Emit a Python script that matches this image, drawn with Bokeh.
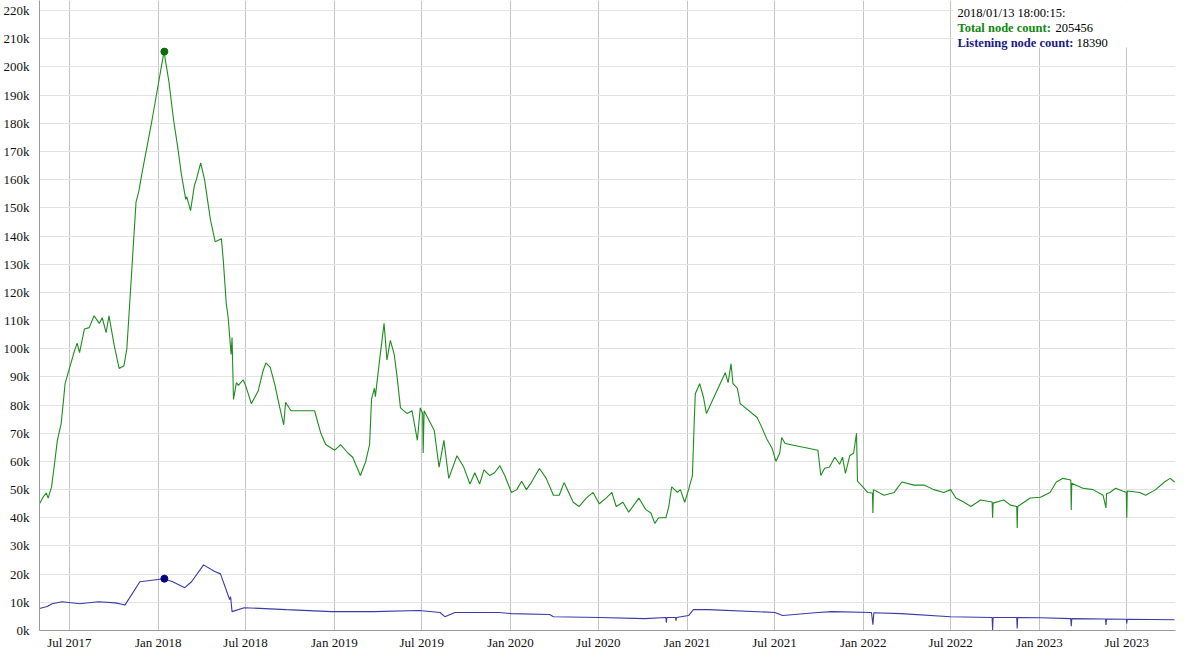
import pandas as pd
from bokeh.plotting import figure
from bokeh.models import (FixedTicker, Label, BoxAnnotation, Range1d,
                          DatetimeTickFormatter, CustomJSTickFormatter)
from bokeh.embed import file_html
from bokeh.resources import INLINE

# ---------------- data ----------------
total_dates = [
    "2017-04-30", "2017-05-08", "2017-05-14", "2017-05-18", "2017-05-25", "2017-05-31",
    "2017-06-06", "2017-06-14", "2017-06-20", "2017-06-22", "2017-07-01", "2017-07-11",
    "2017-07-17", "2017-07-22", "2017-08-01", "2017-08-11", "2017-08-21", "2017-09-01",
    "2017-09-07", "2017-09-15", "2017-09-21", "2017-10-02", "2017-10-12", "2017-10-22",
    "2017-10-28", "2017-11-08", "2017-11-16", "2017-11-22", "2017-11-28", "2017-12-19",
    "2018-01-13", "2018-01-23", "2018-02-02", "2018-02-10", "2018-02-18", "2018-02-27",
    "2018-03-01", "2018-03-09", "2018-03-17", "2018-03-21", "2018-03-30", "2018-04-07",
    "2018-04-19", "2018-04-29", "2018-05-12", "2018-05-16", "2018-05-22", "2018-05-26",
    "2018-06-01", "2018-06-03", "2018-06-06", "2018-06-12", "2018-06-16", "2018-06-26",
    "2018-07-01", "2018-07-13", "2018-07-27", "2018-08-06", "2018-08-12", "2018-08-21",
    "2018-08-31", "2018-09-10", "2018-09-18", "2018-09-22", "2018-10-03", "2018-11-21",
    "2018-12-04", "2018-12-14", "2019-01-02", "2019-01-14", "2019-01-29", "2019-02-08",
    "2019-02-14", "2019-02-24", "2019-03-07", "2019-03-15", "2019-03-19", "2019-03-25",
    "2019-03-27", "2019-04-04", "2019-04-14", "2019-04-20", "2019-04-27", "2019-05-05",
    "2019-05-11", "2019-05-18", "2019-06-01", "2019-06-11", "2019-06-22", "2019-06-28",
    "2019-07-03", "2019-07-04", "2019-07-06", "2019-07-27", "2019-08-06", "2019-08-16",
    "2019-08-26", "2019-09-12", "2019-09-26", "2019-10-09", "2019-10-19", "2019-10-29",
    "2019-11-07", "2019-11-19", "2019-11-29", "2019-12-10", "2019-12-20", "2020-01-03",
    "2020-01-14", "2020-01-24", "2020-02-03", "2020-02-13", "2020-03-01", "2020-03-15",
    "2020-03-30", "2020-04-11", "2020-04-21", "2020-05-10", "2020-05-22", "2020-06-06",
    "2020-06-20", "2020-07-03", "2020-07-17", "2020-07-29", "2020-08-07", "2020-08-21",
    "2020-09-02", "2020-09-23", "2020-10-07", "2020-10-18", "2020-10-26", "2020-11-03",
    "2020-11-18", "2020-11-24", "2020-11-30", "2020-12-12", "2020-12-18", "2020-12-27",
    "2021-01-04", "2021-01-12", "2021-01-16", "2021-01-18", "2021-01-27", "2021-02-04",
    "2021-02-10", "2021-03-21", "2021-03-27", "2021-04-02", "2021-04-06", "2021-04-15",
    "2021-04-21", "2021-04-25", "2021-05-26", "2021-06-05", "2021-06-15", "2021-06-26",
    "2021-07-04", "2021-07-12", "2021-07-16", "2021-07-23", "2021-09-29", "2021-10-05",
    "2021-10-13", "2021-10-23", "2021-11-03", "2021-11-13", "2021-11-19", "2021-11-25",
    "2021-12-04", "2021-12-12", "2021-12-18", "2021-12-20", "2021-12-31", "2022-01-10",
    "2022-01-20", "2022-01-21", "2022-01-22", "2022-02-13", "2022-03-06", "2022-03-22",
    "2022-04-16", "2022-05-07", "2022-05-27", "2022-06-17", "2022-07-01", "2022-07-12",
    "2022-07-28", "2022-08-12", "2022-09-01", "2022-09-25", "2022-09-26", "2022-09-27",
    "2022-10-19", "2022-11-02", "2022-11-15", "2022-11-16", "2022-11-17", "2022-12-13",
    "2023-01-03", "2023-01-23", "2023-02-05", "2023-02-19", "2023-03-07", "2023-03-08",
    "2023-03-09", "2023-04-01", "2023-04-22", "2023-05-13", "2023-05-19", "2023-05-20",
    "2023-05-27", "2023-06-08", "2023-06-30", "2023-07-01", "2023-07-02", "2023-07-28",
    "2023-08-09", "2023-08-30", "2023-09-17", "2023-09-29", "2023-10-08",
]
total_counts = [
    45000, 47500, 48800, 47000, 51000, 59000,
    67500, 73500, 84000, 87600, 93000, 99000,
    102000, 98600, 107000, 107500, 111700, 109000,
    111000, 105700, 111700, 101000, 93000, 94000,
    100000, 130000, 152000, 156000, 162000, 181000,
    205456, 195000, 181000, 172000, 162000, 153000,
    154000, 149000, 158000, 160000, 166000, 160000,
    146000, 138000, 139000, 131000, 116000, 111000,
    98000, 104000, 82000, 88000, 87000, 89000,
    87000, 80500, 85000, 92000, 95000, 93500,
    87000, 79000, 73000, 81000, 78000, 78000,
    70000, 66000, 64000, 66000, 63000, 61500,
    59000, 55000, 60000, 66000, 82000, 86000,
    83000, 95000, 109000, 96000, 103000, 98000,
    90000, 79000, 77000, 78000, 67500, 79000,
    77000, 63000, 78000, 71000, 58000, 67500,
    54000, 62000, 58000, 52000, 56000, 52000,
    57000, 55000, 56000, 58500, 55000, 49000,
    50000, 53000, 50000, 52500, 57500, 54000,
    48000, 48000, 52500, 45500, 44000, 47000,
    49000, 45000, 47000, 49000, 44000, 45500,
    42000, 47000, 43000, 41700, 38000, 40000,
    40000, 44000, 51000, 49000, 50000, 45500,
    50000, 55000, 75600, 84000, 87600, 82700,
    77000, 91500, 88000, 94700, 87600, 86000,
    80500, 80000, 75600, 72000, 68000, 64700,
    60000, 63000, 68500, 66400, 64000, 55000,
    57600, 58000, 61500, 59000, 61500, 55800,
    62000, 63000, 70000, 53000, 51000, 49000,
    48800, 41700, 50000, 48000, 49000, 52700,
    51600, 51600, 50000, 49000, 50000, 47000,
    45600, 44000, 46300, 45600, 40000, 45200,
    46300, 44500, 44000, 36400, 44000, 47000,
    47300, 49000, 52700, 54000, 53400, 42800,
    52300, 50500, 50000, 48000, 43500, 48500,
    49000, 50500, 49000, 40000, 49500, 49000,
    48000, 50000, 52700, 54000, 52700,
]

listening_dates = [
    "2017-04-30", "2017-05-16", "2017-05-26", "2017-06-16", "2017-07-22", "2017-08-30",
    "2017-10-04", "2017-10-20", "2017-10-24", "2017-11-24", "2018-01-13", "2018-01-31",
    "2018-02-25", "2018-03-11", "2018-04-05", "2018-04-27", "2018-05-10", "2018-05-29",
    "2018-05-31", "2018-06-03", "2018-06-28", "2018-09-23", "2018-12-26", "2019-03-23",
    "2019-06-26", "2019-08-08", "2019-08-18", "2019-09-08", "2019-12-08", "2020-01-03",
    "2020-03-22", "2020-03-30", "2020-07-03", "2020-10-05", "2020-11-18", "2020-11-19",
    "2020-11-20", "2020-12-08", "2020-12-09", "2020-12-10", "2021-01-04", "2021-01-14",
    "2021-02-14", "2021-07-02", "2021-07-18", "2021-09-29", "2021-10-28", "2022-01-18",
    "2022-01-21", "2022-01-23", "2022-03-20", "2022-07-01", "2022-09-25", "2022-09-26",
    "2022-09-27", "2022-11-15", "2022-11-16", "2022-11-17", "2023-01-03", "2023-03-07",
    "2023-03-08", "2023-03-09", "2023-05-18", "2023-05-19", "2023-05-20", "2023-06-30",
    "2023-07-01", "2023-07-02", "2023-10-08",
]
listening_counts = [
    7800, 8500, 9500, 10200, 9500, 10200,
    9800, 9200, 9000, 17300, 18390, 17300,
    15200, 17300, 23300, 21000, 20100, 11000,
    12000, 6700, 8100, 7400, 6700, 6700,
    7100, 6400, 4900, 6400, 6400, 6000,
    5700, 4900, 4600, 4200, 4600, 2800,
    4600, 4600, 3500, 4600, 5300, 7400,
    7400, 6400, 5300, 6400, 6700, 6400,
    2100, 6300, 6000, 4900, 4600, 200,
    4600, 4600, 700, 4600, 4500, 4200,
    1500, 4200, 4100, 2000, 4100, 4000,
    2500, 4000, 3800,
]

highlight_time = "2018-01-13 18:00:15"
highlight_total = 205456
highlight_listening = 18390

x_tick_dates = ["2017-07-01", "2018-01-01", "2018-07-01", "2019-01-01", "2019-07-01",
                "2020-01-01", "2020-07-01", "2021-01-01", "2021-07-01", "2022-01-01",
                "2022-07-01", "2023-01-01", "2023-07-01"]
y_tick_values = [0, 10000, 20000, 30000, 40000, 50000, 60000, 70000, 80000, 90000,
                 100000, 110000, 120000, 130000, 140000, 150000, 160000, 170000,
                 180000, 190000, 200000, 210000, 220000]

# ---------------- layout ----------------
W, FRAME_H = 1176, 630
SERIF = "Liberation Serif"


def ms(d):
    return pd.Timestamp(d).value / 1e6


p = figure(width=W, frame_height=FRAME_H, x_axis_type="datetime",
           output_backend="svg", toolbar_location=None,
           x_range=Range1d(ms("2017-04-30"), ms("2023-10-10")),
           y_range=Range1d(0, 223600),
           min_border_left=32, min_border_right=1, min_border_top=0, min_border_bottom=0)
p.outline_line_color = None
p.background_fill_color = "white"
p.border_fill_color = "white"

# grids / axes
p.xaxis.ticker = FixedTicker(ticks=[ms(d) for d in x_tick_dates])
p.yaxis.ticker = FixedTicker(ticks=y_tick_values)
fmt = "%b %Y"
p.xaxis.formatter = DatetimeTickFormatter(
    milliseconds=fmt, seconds=fmt, minsec=fmt, minutes=fmt, hourmin=fmt, hours=fmt,
    days=fmt, months=fmt, years=fmt)
p.yaxis.formatter = CustomJSTickFormatter(code="return Math.round(tick / 1000) + 'k';")
for ax in (p.xaxis[0], p.yaxis[0]):
    ax.major_tick_line_color = None
    ax.minor_tick_line_color = None
    ax.major_tick_in = 0
    ax.minor_tick_out = 0
    ax.axis_label_standoff = 0
    ax.axis_line_color = "#9a9a9a"
    ax.major_label_text_font = SERIF
    ax.major_label_text_font_size = "13px"
    ax.major_label_text_color = "#111111"
p.xaxis.major_tick_out = 0
p.xaxis.major_label_standoff = 4
p.yaxis.major_tick_out = 5
p.yaxis.major_label_standoff = 5
p.xgrid.grid_line_color = "#c4c4c4"
p.ygrid.grid_line_color = "#e3e3e3"

# series
p.line(pd.to_datetime(total_dates), total_counts, line_color="#1f8c1f", line_width=1.1)
p.line(pd.to_datetime(listening_dates), listening_counts, line_color="#3a3aa8", line_width=1.1)
p.scatter([pd.Timestamp(highlight_time)], [highlight_total], size=7,
          fill_color="#0b6e0b", line_color="#0b6e0b")
p.scatter([pd.Timestamp(highlight_time)], [highlight_listening], size=7,
          fill_color="#000080", line_color="#000080")

# header box with hovered values
HX = 918
p.add_layout(BoxAnnotation(left=HX - 4, left_units="screen",
                           bottom=FRAME_H - 47, bottom_units="screen",
                           fill_color="white", fill_alpha=1.0, line_alpha=0))

stamp = pd.Timestamp(highlight_time).strftime("%Y/%m/%d %H:%M:%S") + ":"
FS = "12.5px"
rows = [
    (stamp, "#000000", "normal", 0, 12),
    ("Total node count:", "#118811", "bold", 0, 27),
    (str(highlight_total), "#000000", "normal", 98, 27),
    ("Listening node count:", "#1a1a88", "bold", 0, 42),
    (str(highlight_listening), "#000000", "normal", 119, 42),
]
for txt, col, style, dx, dy in rows:
    p.add_layout(Label(x=HX + dx, y=FRAME_H - dy, x_units="screen", y_units="screen",
                       text=txt, text_color=col, text_font=SERIF, text_font_size=FS,
                       text_font_style=style, text_baseline="alphabetic",
                       text_align="left"))

open("out.html", "w").write(file_html(p, INLINE))
